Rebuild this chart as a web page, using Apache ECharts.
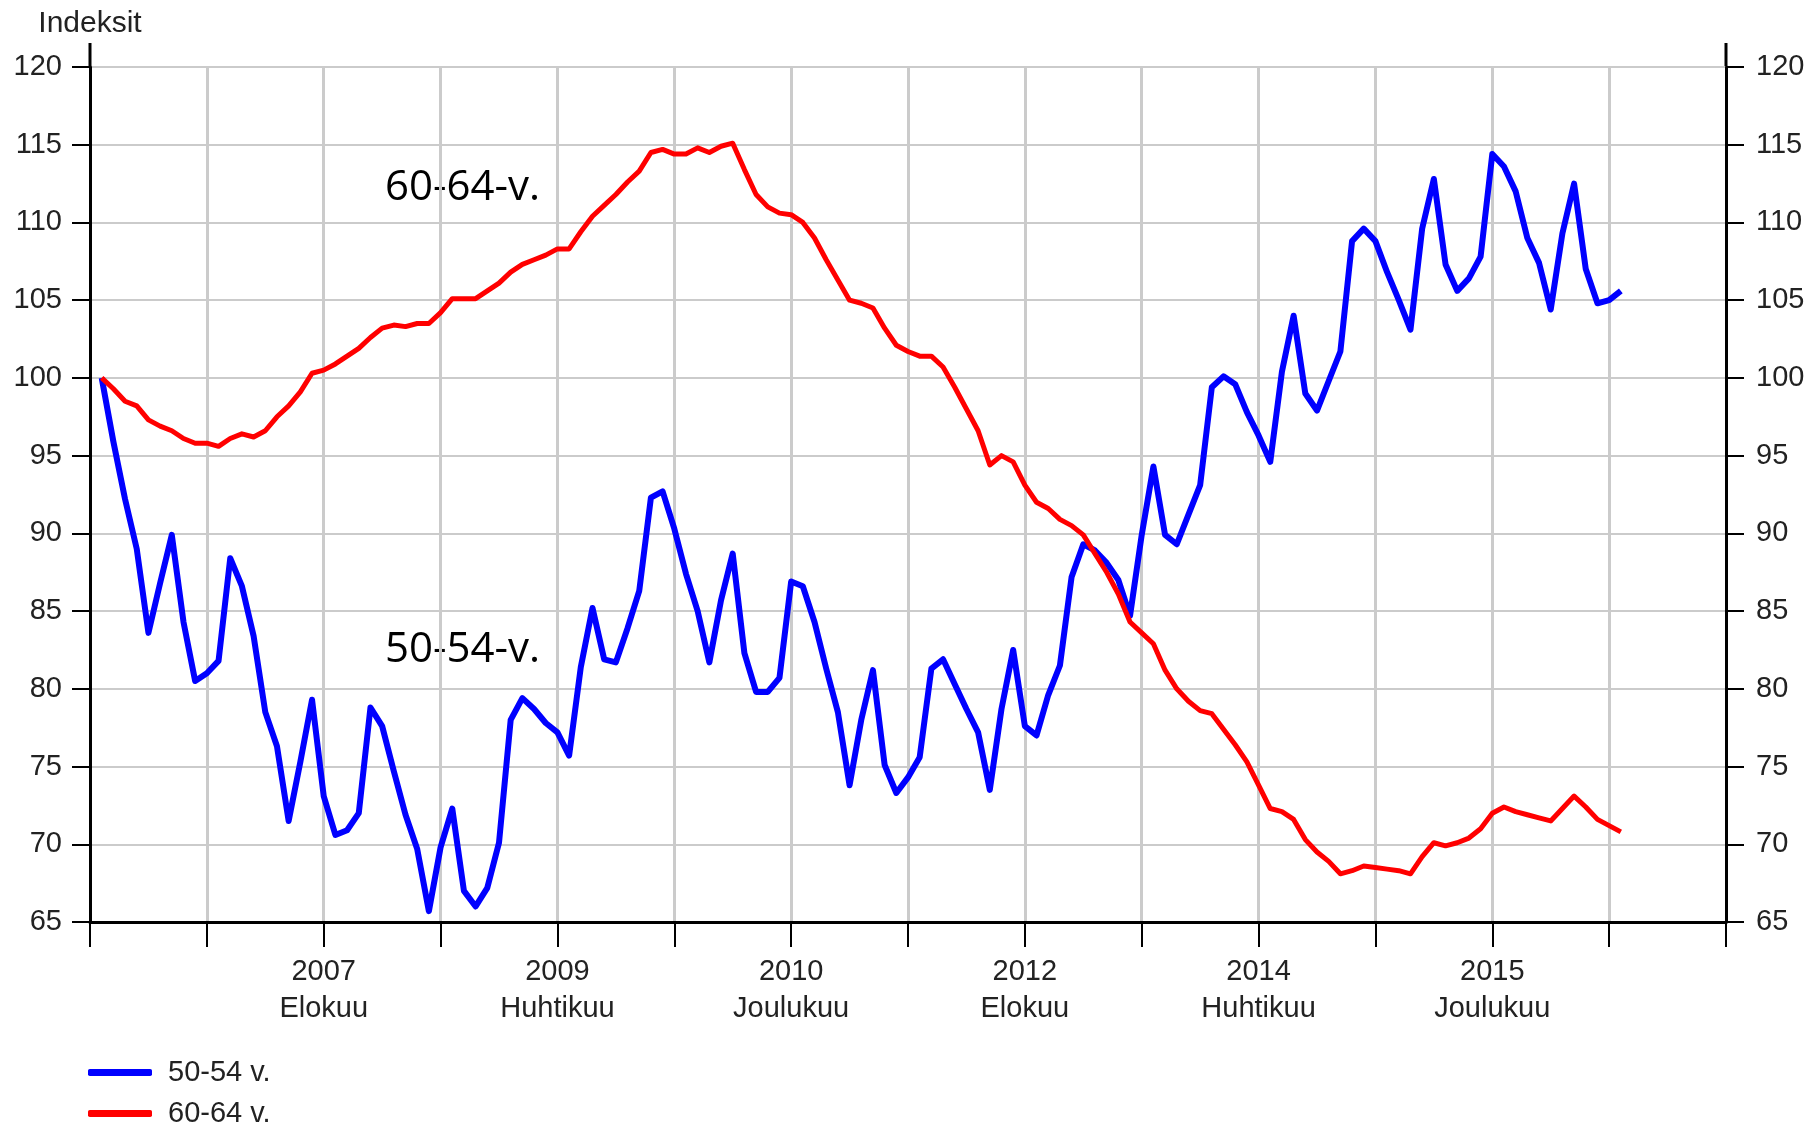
<!DOCTYPE html>
<html>
<head>
<meta charset="utf-8">
<script src="https://cdn.jsdelivr.net/npm/echarts@6/dist/echarts.min.js"></script>
<style>
html,body{margin:0;padding:0;background:#fff;}
#chart{width:1812px;height:1128px;}
</style>
</head>
<body>
<div id="chart"></div>
<script>
// Months: index 0 = Joulukuu 2005 ... index 140 = Elokuu 2017
const monthNames = ['Tammikuu','Helmikuu','Maaliskuu','Huhtikuu','Toukokuu','Kesäkuu','Heinäkuu','Elokuu','Syyskuu','Lokakuu','Marraskuu','Joulukuu'];
const startYear = 2005, startMonth = 11, monthCount = 141;
const categories = [];
for (let i = 0; i < monthCount; i++) {
  const t = startMonth + i;
  categories.push((startYear + Math.floor(t / 12)) + ' ' + monthNames[t % 12]);
}

const xTickIndex = [20, 40, 60, 80, 100, 120];
const xTickLabels = ['2007\nElokuu', '2009\nHuhtikuu', '2010\nJoulukuu', '2012\nElokuu', '2014\nHuhtikuu', '2015\nJoulukuu'];

const seriesNames = ['50-54 v.', '60-64 v.'];

// Tammikuu 2006 ... Marraskuu 2016 (131 months)
const values5054 = [
  100.0, 95.9, 92.2, 89.0, 83.6, 86.8, 89.9, 84.3, 80.5, 81.0,
  81.8, 88.4, 86.6, 83.4, 78.5, 76.3, 71.5, 75.3, 79.3, 73.1,
  70.6, 70.9, 72.0, 78.8, 77.6, 74.7, 71.9, 69.7, 65.7, 69.8,
  72.3, 67.0, 66.0, 67.2, 70.1, 78.0, 79.4, 78.7, 77.8, 77.2,
  75.7, 81.4, 85.2, 81.9, 81.7, 83.9, 86.3, 92.3, 92.7, 90.3,
  87.4, 85.0, 81.7, 85.7, 88.7, 82.3, 79.8, 79.8, 80.7, 86.9,
  86.6, 84.3, 81.3, 78.5, 73.8, 78.0, 81.2, 75.1, 73.3, 74.3,
  75.6, 81.3, 81.9, 80.3, 78.7, 77.2, 73.5, 78.7, 82.5, 77.6,
  77.0, 79.6, 81.5, 87.2, 89.3, 88.9, 88.1, 87.0, 84.7, 89.9,
  94.3, 89.9, 89.3, 91.2, 93.1, 99.4, 100.1, 99.6, 97.8, 96.3,
  94.6, 100.4, 104.0, 99.0, 97.9, 99.8, 101.7, 108.8, 109.6, 108.8,
  106.8, 105.0, 103.1, 109.6, 112.8, 107.3, 105.6, 106.4, 107.8, 114.4,
  113.6, 112.0, 109.0, 107.4, 104.4, 109.3, 112.5, 107.0, 104.8, 105.0,
  105.6
];
const values6064 = [
  100.0, 99.3, 98.5, 98.2, 97.3, 96.9, 96.6, 96.1, 95.8, 95.8,
  95.6, 96.1, 96.4, 96.2, 96.6, 97.5, 98.2, 99.1, 100.3, 100.5,
  100.9, 101.4, 101.9, 102.6, 103.2, 103.4, 103.3, 103.5, 103.5, 104.2,
  105.1, 105.1, 105.1, 105.6, 106.1, 106.8, 107.3, 107.6, 107.9, 108.3,
  108.3, 109.4, 110.4, 111.1, 111.8, 112.6, 113.3, 114.5, 114.7, 114.4,
  114.4, 114.8, 114.5, 114.9, 115.1, 113.4, 111.8, 111.0, 110.6, 110.5,
  110.0, 109.0, 107.6, 106.3, 105.0, 104.8, 104.5, 103.2, 102.1, 101.7,
  101.4, 101.4, 100.7, 99.4, 98.0, 96.6, 94.4, 95.0, 94.6, 93.1,
  92.0, 91.6, 90.9, 90.5, 89.9, 88.7, 87.5, 86.1, 84.3, 83.6,
  82.9, 81.2, 80.0, 79.2, 78.6, 78.4, 77.4, 76.4, 75.3, 73.8,
  72.3, 72.1, 71.6, 70.3, 69.5, 68.9, 68.1, 68.3, 68.6, 68.5,
  68.4, 68.3, 68.1, 69.2, 70.1, 69.9, 70.1, 70.4, 71.0, 72.0,
  72.4, 72.1, 71.9, 71.7, 71.5, 72.3, 73.1, 72.4, 71.6, 71.2,
  70.8
];
const dataOffset = 1; // first value at Tammikuu 2006

const yTicks = {min: 65, max: 120, interval: 5};

function pad(vals) {
  const out = new Array(monthCount).fill(null);
  vals.forEach((v, i) => { out[i + dataOffset] = v; });
  return out;
}

const GL = 90, GR = 86, GT = 67, GB = 206;
const FONT = '"Liberation Sans", Arial, sans-serif';
const chart = echarts.init(document.getElementById('chart'), null, {renderer: 'canvas'});

const yBase = {
  type: 'value', min: yTicks.min, max: yTicks.max, interval: yTicks.interval,
  axisLine: {show: true, lineStyle: {color: '#000', width: 3}},
  axisTick: {show: true, length: 18, lineStyle: {color: '#000', width: 2}},
  axisLabel: {color: '#222', fontSize: 29, fontFamily: FONT}
};

chart.setOption({
  animation: false,
  backgroundColor: '#fff',
  grid: {left: GL, right: GR, top: GT, bottom: GB, containLabel: false},
  legend: {
    orient: 'vertical', left: 88, top: 1058, padding: 0,
    itemWidth: 64, itemHeight: 7, itemGap: 12,
    icon: 'roundRect',
    textStyle: {fontSize: 29, fontFamily: FONT, color: '#222', lineHeight: 28, padding: [0, 0, 0, 11]},
    data: seriesNames
  },
  xAxis: {
    type: 'category', data: categories, boundaryGap: false,
    axisLine: {lineStyle: {color: '#000', width: 3}},
    axisTick: {show: true, length: 25, interval: (i) => i % 10 === 0, lineStyle: {color: '#000', width: 2}},
    splitLine: {show: true, interval: (i) => i % 10 === 0, lineStyle: {color: '#cbcbcb', width: 3}},
    axisLabel: {
      interval: (i) => xTickIndex.includes(i),
      formatter: (v, i) => { const k = xTickIndex.indexOf(i); return k >= 0 ? xTickLabels[k] : ''; },
      color: '#222', fontSize: 29, fontFamily: FONT, lineHeight: 37, margin: 31
    }
  },
  yAxis: [
    Object.assign({}, yBase, {
      position: 'left',
      name: 'Indeksit', nameLocation: 'end', nameGap: 43,
      nameTextStyle: {color: '#222', fontSize: 30, fontFamily: FONT, align: 'center', verticalAlign: 'middle'},
      splitLine: {show: true, lineStyle: {color: '#cbcbcb', width: 2}},
      axisLabel: Object.assign({}, yBase.axisLabel, {margin: 28})
    }),
    Object.assign({}, yBase, {
      position: 'right',
      splitLine: {show: false},
      axisLabel: Object.assign({}, yBase.axisLabel, {margin: 30})
    })
  ],
  graphic: [
    {type: 'line', shape: {x1: GL, y1: 43, x2: GL, y2: GT}, style: {stroke: '#000', lineWidth: 3}},
    {type: 'line', shape: {x1: 1812 - GR, y1: 43, x2: 1812 - GR, y2: GT}, style: {stroke: '#000', lineWidth: 3}},
    {type: 'text', x: 385, y: 188, style: {text: '60-64-v.', font: '42px "Open Sans"', fill: '#000', verticalAlign: 'middle'}},
    {type: 'text', x: 385, y: 650, style: {text: '50-54-v.', font: '42px "Open Sans"', fill: '#000', verticalAlign: 'middle'}}
  ],
  series: [
    {name: seriesNames[0], type: 'line', data: pad(values5054), yAxisIndex: 0,
     symbol: 'none', color: '#0000ff', lineStyle: {color: '#0000ff', width: 6, join: 'round'}, z: 2},
    {name: seriesNames[1], type: 'line', data: pad(values6064), yAxisIndex: 0,
     symbol: 'none', color: '#ff0000', lineStyle: {color: '#ff0000', width: 5, join: 'round'}, z: 3}
  ]
});
</script>
</body>
</html>
